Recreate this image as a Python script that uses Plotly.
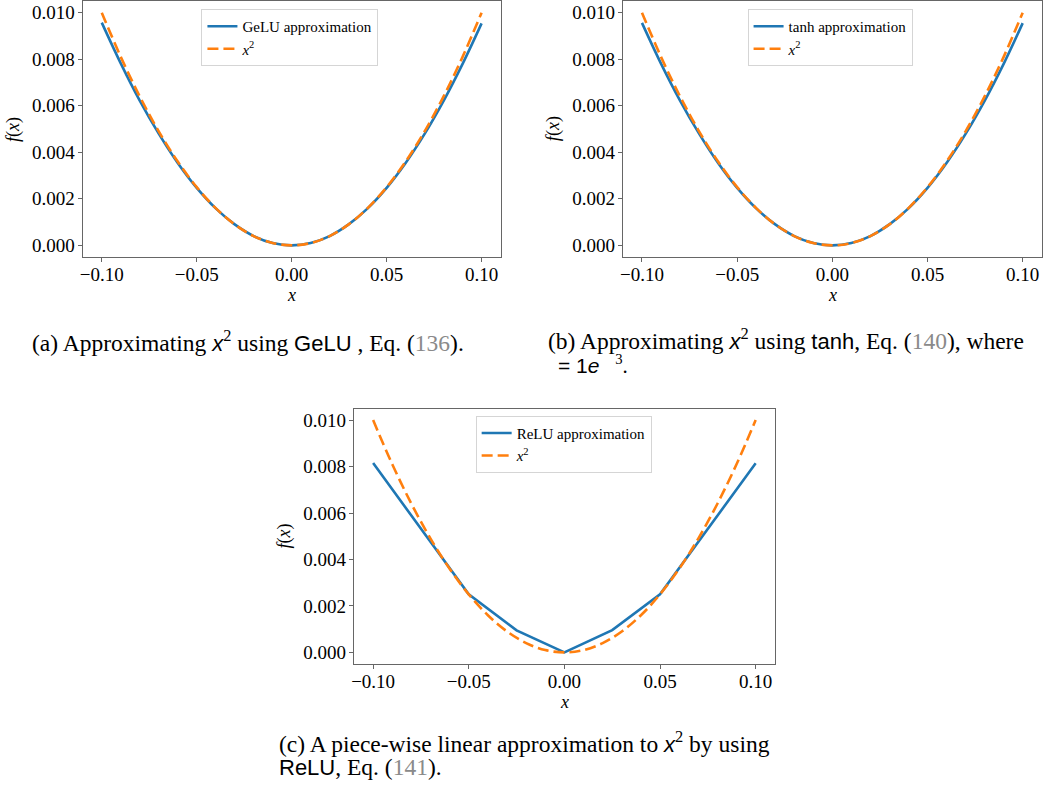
import plotly.graph_objects as go

W, H = 1053, 791

# ---------------- data ----------------
x_smooth = [-0.10, -0.09, -0.08, -0.07, -0.06, -0.05, -0.04, -0.03, -0.02, -0.01, 0.00,
            0.01, 0.02, 0.03, 0.04, 0.05, 0.06, 0.07, 0.08, 0.09, 0.10]
x_sq = [0.0100, 0.0081, 0.0064, 0.0049, 0.0036, 0.0025, 0.0016, 0.0009, 0.0004, 0.0001, 0.0000,
        0.0001, 0.0004, 0.0009, 0.0016, 0.0025, 0.0036, 0.0049, 0.0064, 0.0081, 0.0100]
gelu_approx = [0.00957, 0.00782, 0.00622, 0.00480, 0.00354, 0.00247, 0.00159, 0.00090, 0.00040, 0.00010, 0.0,
               0.00010, 0.00040, 0.00090, 0.00159, 0.00247, 0.00354, 0.00479, 0.00621, 0.00780, 0.00954]
tanh_approx = [0.00956, 0.00781, 0.00622, 0.00480, 0.00354, 0.00247, 0.00159, 0.00090, 0.00040, 0.00010, 0.0,
               0.00010, 0.00040, 0.00090, 0.00159, 0.00247, 0.00354, 0.00479, 0.00621, 0.00780, 0.00955]
x_relu = [-0.10, -0.05, -0.025, 0.0, 0.025, 0.05, 0.10]
relu_approx = [0.00815, 0.00250, 0.00095, 0.0, 0.00096, 0.00250, 0.00814]

x_ticks = [-0.10, -0.05, 0.00, 0.05, 0.10]
y_ticks = [0.000, 0.002, 0.004, 0.006, 0.008, 0.010]

labels = [("GeLU approximation", gelu_approx, x_smooth),
          ("tanh approximation", tanh_approx, x_smooth),
          ("ReLU approximation", relu_approx, x_relu)]

BLUE = "#1f77b4"
ORANGE = "#ff7f0e"
SERIF = "Liberation Serif"
SANS = "Liberation Sans"
SPINE = "#666666"

def px(x):
    return x / W

def py(y):
    return 1 - y / H

# axes boxes in pixels: left, right, top, bottom
boxes = [(80, 499, 1, 257), (621.7, 1041.7, 1, 257), (352, 774, 408.5, 664)]
legend_pos = [(199, 9), (746.7, 9), (474, 415.7)]

fig = go.Figure()
layout = dict(width=W, height=H, margin=dict(l=0, r=0, t=0, b=0),
              plot_bgcolor="white", paper_bgcolor="white", showlegend=True,
              font=dict(family=SERIF, size=19, color="black"))
annotations = []

for i, ((name, ys, xs), (l, r, t, b), (lx, ly)) in enumerate(zip(labels, boxes, legend_pos)):
    n = "" if i == 0 else str(i + 1)
    leg = "legend" + n
    shape = "linear" if i == 2 else "spline"
    fig.add_trace(go.Scatter(x=xs, y=ys, mode="lines", name=name,
                             line=dict(color=BLUE, width=2.6, shape=shape),
                             xaxis="x" + n, yaxis="y" + n, legend=leg))
    fig.add_trace(go.Scatter(x=x_smooth, y=x_sq, mode="lines", name="<i>x</i><sup>2</sup>",
                             line=dict(color=ORANGE, width=2.6, dash="11px,5px", shape="spline"),
                             xaxis="x" + n, yaxis="y" + n, legend=leg))
    axstyle = dict(showline=True, mirror=True, linecolor=SPINE, linewidth=1.2,
                   ticks="outside", ticklen=4, tickwidth=1, tickcolor=SPINE,
                   showgrid=False, zeroline=False,
                   tickfont=dict(family=SERIF, size=19, color="black"))
    layout["xaxis" + n] = dict(domain=[px(l), px(r)], range=[-0.11, 0.11],
                               tickvals=x_ticks, tickformat=".2f",
                               anchor="y" + n, ticklabelstandoff=-4, **axstyle)
    layout["yaxis" + n] = dict(domain=[py(b), py(t)], range=[-0.0005, 0.0105],
                               tickvals=y_ticks, tickformat=".3f",
                               anchor="x" + n, ticklabelstandoff=-1, **axstyle)
    layout[leg] = dict(x=px(lx), y=py(ly), xanchor="left", yanchor="top",
                       xref="paper", yref="paper",
                       bgcolor="rgba(255,255,255,0.8)", bordercolor="#d5d5d5", borderwidth=1,
                       font=dict(family=SERIF, size=15, color="black"),
                       tracegroupgap=0, itemwidth=30)
    # axis titles
    annotations.append(dict(x=px(l - 70), y=py((t + b) / 2), xref="paper", yref="paper",
                            text="<i>f</i>(<i>x</i>)", showarrow=False, textangle=-90,
                            font=dict(family=SERIF, size=18, color="black"),
                            xanchor="center", yanchor="middle"))
    annotations.append(dict(x=px((l + r) / 2), y=py(b + 38), xref="paper", yref="paper",
                            text="<i>x</i>", showarrow=False,
                            font=dict(family=SERIF, size=18, color="black"),
                            xanchor="center", yanchor="middle"))

def sans(s):
    return "<span style='font-family:%s;font-size:22px'>%s</span>" % (SANS, s)

def gray(s):
    return "<span style='color:#8a8a8a'>%s</span>" % s

xsq_cap = sans("<i>x</i>") + "<sup>2</sup>"

captions = [
    (27, 341, 23.5, "(a) Approximating " + xsq_cap + " using " + sans("GeLU") + " , Eq. (" + gray("136") + ")."),
    (545, 339, 23.5, "(b) Approximating " + xsq_cap + " using " + sans("tanh") + ", Eq. (" + gray("140") + "), where"),
    (555, 364, 21, "<span style='font-family:%s'>= 1<i>e</i></span>&nbsp;&nbsp;&nbsp;<sup>3</sup>." % SANS),
    (275, 742, 23.5, "(c) A piece-wise linear approximation to " + xsq_cap + " by using"),
    (275, 767, 23.5, sans("ReLU") + ", Eq. (" + gray("141") + ")."),
]
for cx, cy, fs, txt in captions:
    annotations.append(dict(x=px(cx), y=py(cy), xref="paper", yref="paper", text=txt,
                            showarrow=False, xanchor="left", yanchor="middle",
                            font=dict(family=SERIF, size=fs, color="black")))

layout["annotations"] = annotations
fig.update_layout(**layout)
fig.write_html("out.html", config={"displayModeBar": False},
               post_script="document.body.style.margin='0';document.body.style.overflow='hidden';")
